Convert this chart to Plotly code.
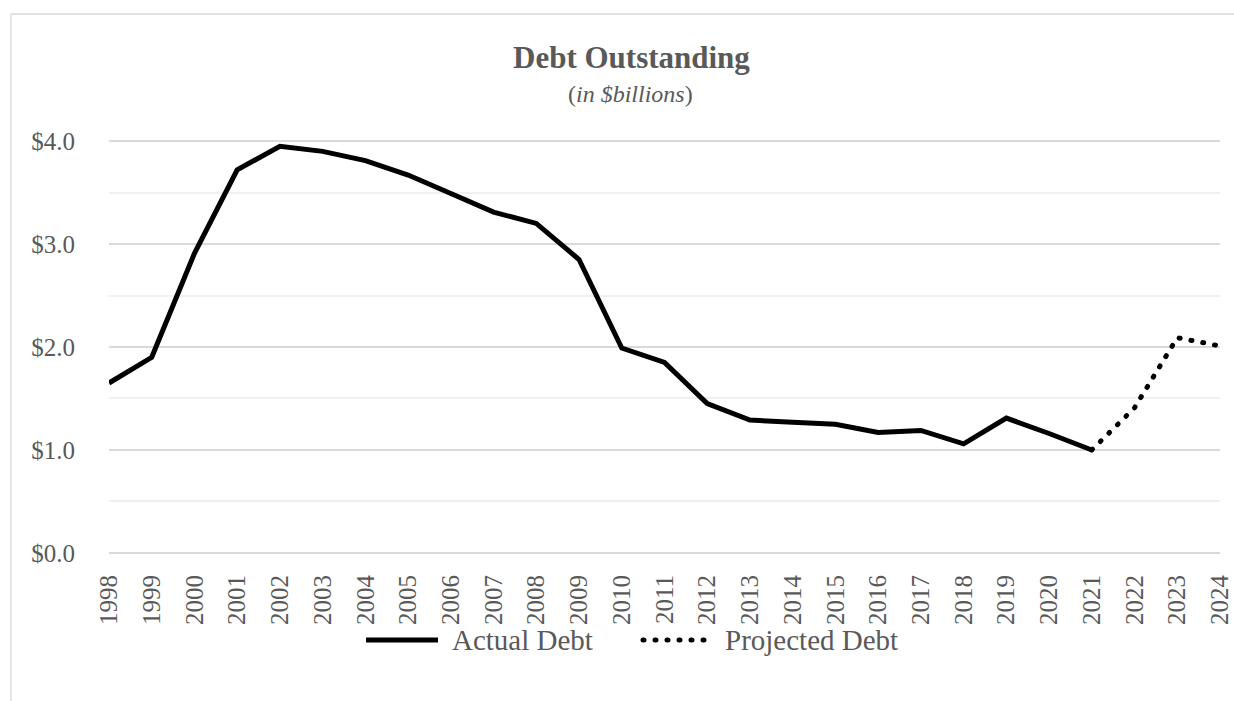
import plotly.graph_objects as go

# Debt outstanding, $ billions
actual_years = list(range(1998, 2022))
actual_debt = [1.65, 1.90, 2.91, 3.72, 3.95, 3.90, 3.81, 3.67, 3.49, 3.31, 3.20, 2.85,
               1.99, 1.85, 1.45, 1.29, 1.27, 1.25, 1.17, 1.19, 1.06, 1.31, 1.16, 1.00]
projected_years = [2021, 2022, 2023, 2024]
projected_debt = [1.00, 1.41, 2.09, 2.01]
year_ticks = list(range(1998, 2025))
y_ticks = [0, 1, 2, 3, 4]
y_tick_labels = ["$0.0", "$1.0", "$2.0", "$3.0", "$4.0"]

FONT = "Liberation Serif"
GREY = "#595959"
DOTS = "1px,11px"
W, H = 1234, 701
ML, MR, MT, MB = 109, 14, 139, 146
PW, PH = W - ML - MR, H - MT - MB


def px_x(px):
    return (px - ML) / PW


def px_y(py):
    return (H - MB - py) / PH


fig = go.Figure()
fig.add_trace(go.Scatter(x=actual_years, y=actual_debt, mode="lines", name="Actual Debt",
                         line=dict(color="black", width=5), showlegend=False))
fig.add_trace(go.Scatter(x=projected_years, y=projected_debt, mode="lines", name="Projected Debt",
                         line=dict(color="black", width=5, dash=DOTS), showlegend=False))

shapes = [
    # chart frame
    dict(type="rect", xref="paper", yref="paper", x0=px_x(11), x1=px_x(1250),
         y0=px_y(720), y1=px_y(14), line=dict(color="#d9d9d9", width=1.3), layer="below"),
    # legend samples
    dict(type="line", xref="paper", yref="paper", x0=px_x(366), x1=px_x(438),
         y0=px_y(640), y1=px_y(640), line=dict(color="black", width=5)),
    dict(type="line", xref="paper", yref="paper", x0=px_x(643), x1=px_x(708),
         y0=px_y(640), y1=px_y(640), line=dict(color="black", width=5, dash=DOTS)),
]

annotations = [
    dict(text="<b>Debt Outstanding</b>", x=px_x(631), y=px_y(57), xref="paper", yref="paper",
         showarrow=False, xanchor="center", yanchor="middle",
         font=dict(family=FONT, size=31, color=GREY)),
    dict(text="(<i>in $billions</i>)", x=px_x(630), y=px_y(94), xref="paper", yref="paper",
         showarrow=False, xanchor="center", yanchor="middle",
         font=dict(family=FONT, size=24, color=GREY)),
    dict(text="Actual Debt", x=px_x(450), y=px_y(640), xref="paper", yref="paper",
         showarrow=False, xanchor="left", yanchor="middle",
         font=dict(family=FONT, size=29, color=GREY)),
    dict(text="Projected Debt", x=px_x(723), y=px_y(640), xref="paper", yref="paper",
         showarrow=False, xanchor="left", yanchor="middle",
         font=dict(family=FONT, size=29, color=GREY)),
]

fig.update_layout(
    width=W, height=H, autosize=False,
    margin=dict(l=ML, r=MR, t=MT, b=MB, pad=0, autoexpand=False),
    paper_bgcolor="white", plot_bgcolor="white",
    font=dict(family=FONT, color=GREY),
    showlegend=False,
    shapes=shapes,
    annotations=annotations,
    xaxis=dict(range=[1998, 2024], tickmode="array", tickvals=year_ticks,
               ticktext=[str(y) for y in year_ticks], tickangle=-90, automargin=False,
               showgrid=False, zeroline=False, showline=False, ticks="",
               ticklabelstandoff=14, tickfont=dict(family=FONT, size=25, color=GREY)),
    yaxis=dict(range=[-0.02, 4.02], tickmode="array", tickvals=y_ticks,
               ticktext=y_tick_labels, automargin=False,
               showgrid=True, gridcolor="#d9d9d9", gridwidth=2,
               minor=dict(dtick=0.5, showgrid=True, gridcolor="#f0f0f0", gridwidth=2),
               zeroline=False, showline=False, ticks="",
               ticklabelstandoff=33, tickfont=dict(family=FONT, size=25, color=GREY)),
)

# round caps turn the short dashes into dots
round_dots = """
var gd = document.getElementById('{plot_id}');
function roundDots() {
  gd.querySelectorAll('path').forEach(function (p) {
    var d = p.style.strokeDasharray || p.getAttribute('stroke-dasharray') || '';
    if (d.indexOf('11') >= 0) { p.style.strokeLinecap = 'round'; }
  });
}
roundDots();
gd.on('plotly_afterplot', roundDots);
"""

fig.write_html("out.html", post_script=round_dots)
